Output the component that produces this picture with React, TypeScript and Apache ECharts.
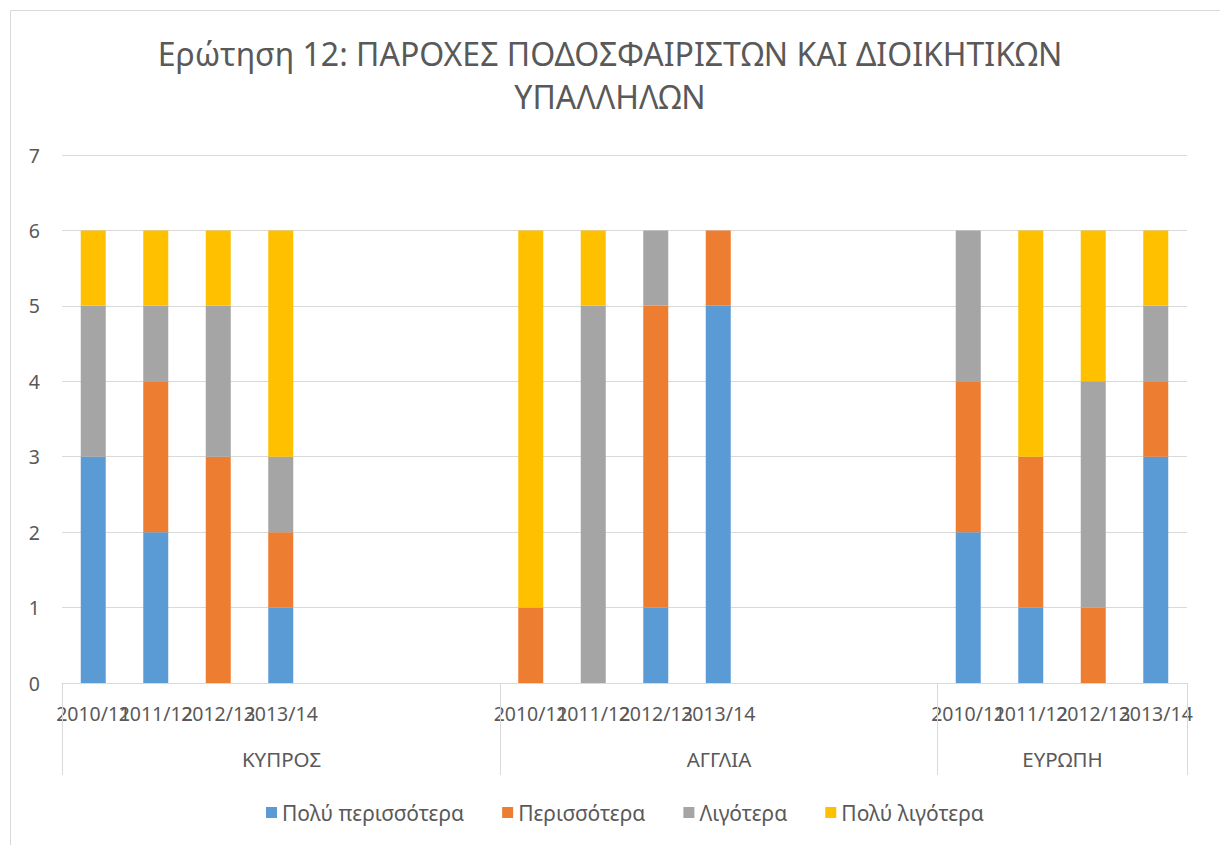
import React, { useEffect, useRef } from "react";
import * as echarts from "echarts";

const titleLines = ["Ερώτηση 12: ΠΑΡΟΧΕΣ ΠΟΔΟΣΦΑΙΡΙΣΤΩΝ ΚΑΙ ΔΙΟΙΚΗΤΙΚΩΝ", "ΥΠΑΛΛΗΛΩΝ"];
const groups = ["ΚΥΠΡΟΣ", "ΑΓΓΛΙΑ", "ΕΥΡΩΠΗ"];
const slotsPerGroup = [7, 7, 4];
const years = ["2010/11", "2011/12", "2012/13", "2013/14"];
const seriesNames = ["Πολύ περισσότερα", "Περισσότερα", "Λιγότερα", "Πολύ λιγότερα"];
const colors = ["#5b9bd5", "#ed7d31", "#a5a5a5", "#ffc000"];
// values ordered: group by group, year by year
const muchMore = [3, 2, 0, 1, 0, 0, 1, 5, 2, 1, 0, 3];
const more = [0, 2, 3, 1, 1, 0, 4, 1, 2, 2, 1, 1];
const less = [2, 1, 2, 1, 0, 5, 1, 0, 2, 0, 3, 1];
const muchLess = [1, 1, 1, 3, 5, 1, 0, 0, 0, 3, 2, 1];
const yTicks = [0, 1, 2, 3, 4, 5, 6, 7];

const FONT = "'Noto Sans', 'DejaVu Sans', sans-serif";
const TXT = "#595959";
const LINE = "#d9d9d9";

export default function App() {
  const ref = useRef<HTMLDivElement>(null);
  useEffect(() => {
    if (!ref.current) return;
    const chart = echarts.init(ref.current, undefined, { renderer: "svg" });

    const categories: string[] = [];
    const groupRanges: number[][] = [];
    const slotIndexOfValue: number[] = [];
    groups.forEach((g, gi) => {
      const start = categories.length;
      for (let s = 0; s < slotsPerGroup[gi]; s++) {
        if (s < years.length) {
          slotIndexOfValue.push(categories.length);
          categories.push(g + "|" + years[s]);
        } else {
          categories.push(g + "|blank" + s);
        }
      }
      groupRanges.push([start, categories.length - 1, gi]);
    });

    const toSlots = (vals: number[]) => {
      const arr: (number | null)[] = categories.map(() => null);
      vals.forEach((v, i) => {
        arr[slotIndexOfValue[i]] = v;
      });
      return arr;
    };
    const valueSets = [muchMore, more, less, muchLess];

    const option: any = {
      animation: false,
      textStyle: { fontFamily: FONT, color: TXT },
      title: {
        text: titleLines.join("\n"),
        left: "center",
        top: 27,
        textStyle: { fontFamily: FONT, fontSize: 32, fontWeight: "normal", color: TXT, lineHeight: 43 },
      },
      legend: {
        data: seriesNames,
        left: 261,
        top: 797,
        icon: "rect",
        itemWidth: 11,
        itemHeight: 11,
        itemGap: 38,
        textStyle: { fontFamily: FONT, fontSize: 21, color: TXT },
      },
      grid: { left: 62, right: 33, top: 155, bottom: 162, containLabel: false },
      xAxis: {
        type: "category",
        data: categories,
        axisTick: { show: false },
        axisLine: { show: true, lineStyle: { color: LINE, width: 1 } },
        axisLabel: {
          interval: 0,
          hideOverlap: false,
          margin: 20,
          fontFamily: FONT,
          fontSize: 19.5,
          color: TXT,
          formatter: (v: string) => {
            const p = v.split("|")[1];
            return p.indexOf("blank") === 0 ? "" : p;
          },
        },
        splitLine: { show: false },
      },
      yAxis: {
        type: "value",
        min: yTicks[0],
        max: yTicks[yTicks.length - 1],
        interval: 1,
        axisLine: { show: false },
        axisTick: { show: false },
        axisLabel: { margin: 22, fontFamily: FONT, fontSize: 19.5, color: TXT },
        splitLine: { lineStyle: { color: LINE, width: 1 } },
      },
      graphic: [
        {
          type: "rect",
          shape: { x: 10.5, y: 10.5, width: 1400, height: 1000 },
          style: { fill: "none", stroke: LINE, lineWidth: 1 },
          silent: true,
        },
      ],
      series: [
        ...seriesNames.map((name, i) => ({
          name,
          type: "bar",
          stack: "total",
          barWidth: 25,
          itemStyle: { color: colors[i] },
          data: toSlots(valueSets[i]),
        })),
        {
          type: "custom",
          name: "groups",
          clip: false,
          silent: true,
          encode: { x: 0, y: 2 },
          data: groupRanges.map((r) => [r[0], r[1], 0]),
          renderItem: (params: any, api: any) => {
            const s = api.value(0);
            const e = api.value(1);
            const band = api.size([1, 0])[0];
            const p0 = api.coord([s, 0]);
            const p1 = api.coord([e, 0]);
            const x0 = Math.round(p0[0] - band / 2) + 0.5;
            const x1 = Math.round(p1[0] + band / 2) + 0.5;
            const y = p0[1];
            return {
              type: "group",
              children: [
                { type: "line", shape: { x1: x0, y1: y, x2: x0, y2: y + 92 }, style: { stroke: LINE, lineWidth: 1 } },
                { type: "line", shape: { x1: x1, y1: y, x2: x1, y2: y + 92 }, style: { stroke: LINE, lineWidth: 1 } },
                {
                  type: "text",
                  x: (x0 + x1) / 2,
                  y: y + 76,
                  style: {
                    text: groups[params.dataIndex],
                    fill: TXT,
                    font: "20.5px " + FONT,
                    align: "center",
                    verticalAlign: "middle",
                  },
                },
              ],
            };
          },
        },
      ],
    };
    chart.setOption(option);
    return () => chart.dispose();
  }, []);
  return (
    <div
      ref={ref}
      style={{ position: "absolute", left: 0, top: 0, width: 1220, height: 845, background: "#fff" }}
    />
  );
}
